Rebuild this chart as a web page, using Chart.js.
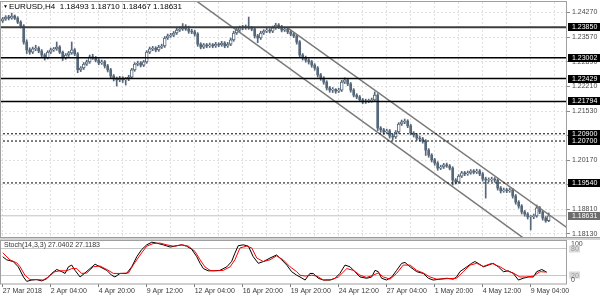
<!DOCTYPE html>
<html><head><meta charset="utf-8">
<script src="https://cdn.jsdelivr.net/npm/chart.js@4.4.0/dist/chart.umd.min.js"></script>
<style>
html,body{margin:0;padding:0;background:#fff;overflow:hidden}
#wrap{position:relative;width:600px;height:300px;background:#fff}
#c1{position:absolute;left:0;top:0}
#c2{position:absolute;left:0;top:240px}
</style></head><body><div id="wrap"><canvas id="c1" width="600" height="240"></canvas><canvas id="c2" width="600" height="60"></canvas></div>
<script>
const symbolTitle = 'EURUSD,H4';
const ohlcTitle = ['1.18493','1.18710','1.18467','1.18631'];
const stochTitle = 'Stoch(14,3,3) 27.0402 27.1183';

const tickIndex = [0,16,32,48,64,80,96,112,128,144,160,176];
const tickLabels = ['27 Mar 2018','2 Apr 04:00','4 Apr 20:00','9 Apr 12:00','12 Apr 04:00','16 Apr 20:00','19 Apr 20:00','24 Apr 12:00','27 Apr 04:00','1 May 20:00','4 May 12:00','9 May 04:00'];
const gridIndex = [0,8,16,24,32,40,48,56,64,72,80,88,96,104,112,120,128,136,144,152,160,168,176,184];
const priceTicks = [1.24270,1.23570,1.22890,1.22210,1.21530,1.20850,1.20170,1.19490,1.18810,1.18130];
const priceRange = [1.18044, 1.24547];
const barRange = [-0.57, 188.1];

const opens = [1.2402,1.2408,1.2413,1.2410,1.2416,1.2410,1.2399,1.2388,1.2344,1.2322,
1.2316,1.2325,1.2327,1.2319,1.2308,1.2300,1.2316,1.2322,1.2325,1.2330,
1.2316,1.2300,1.2308,1.2314,1.2322,1.2311,1.2267,1.2272,1.2283,1.2289,
1.2303,1.2300,1.2294,1.2286,1.2289,1.2278,1.2267,1.2250,1.2242,1.2239,
1.2244,1.2239,1.2242,1.2247,1.2267,1.2283,1.2286,1.2280,1.2289,1.2316,
1.2325,1.2327,1.2322,1.2330,1.2333,1.2355,1.2361,1.2363,1.2369,1.2377,
1.2380,1.2386,1.2380,1.2374,1.2372,1.2366,1.2338,1.2330,1.2336,1.2333,
1.2336,1.2333,1.2338,1.2336,1.2341,1.2333,1.2338,1.2350,1.2369,1.2377,
1.2383,1.2384,1.2386,1.2383,1.2380,1.2361,1.2355,1.2369,1.2374,1.2377,
1.2374,1.2383,1.2391,1.2386,1.2377,1.2380,1.2372,1.2366,1.2361,1.2344,
1.2308,1.2300,1.2294,1.2289,1.2280,1.2272,1.2253,1.2244,1.2233,1.2217,
1.2211,1.2213,1.2208,1.2211,1.2233,1.2239,1.2228,1.2211,1.2197,1.2192,
1.2184,1.2178,1.2181,1.2182,1.2184,1.2197,1.2106,1.2101,1.2095,1.2098,
1.2084,1.2081,1.2095,1.2117,1.2123,1.2125,1.2112,1.2092,1.2087,1.2078,
1.2076,1.2070,1.2045,1.2031,1.2018,1.2009,1.1995,1.1998,1.2004,1.2001,
1.1995,1.1962,1.1957,1.1973,1.1982,1.1979,1.1982,1.1987,1.1984,1.1987,
1.1979,1.1965,1.1962,1.1963,1.1965,1.1962,1.1940,1.1932,1.1935,1.1932,
1.1935,1.1918,1.1901,1.1890,1.1874,1.1868,1.1860,1.1861,1.1863,1.1885,
1.1874,1.1857,1.18493];
const highs = [1.2412,1.2417,1.2418,1.2424,1.2419,1.2414,1.2403,1.2392,1.2350,1.2328,
1.2330,1.2335,1.2331,1.2323,1.2312,1.2320,1.2327,1.2329,1.2344,1.2334,
1.2319,1.2312,1.2318,1.2344,1.2326,1.2315,1.2276,1.2287,1.2294,1.2308,
1.2310,1.2304,1.2298,1.2294,1.2293,1.2282,1.2271,1.2254,1.2247,1.2249,
1.2248,1.2246,1.2252,1.2271,1.2287,1.2291,1.2290,1.2293,1.2320,1.2330,
1.2332,1.2331,1.2335,1.2338,1.2359,1.2366,1.2368,1.2373,1.2382,1.2386,
1.2395,1.2392,1.2388,1.2379,1.2377,1.2370,1.2342,1.2340,1.2340,1.2341,
1.2340,1.2343,1.2342,1.2346,1.2345,1.2343,1.2355,1.2374,1.2382,1.2388,
1.2390,1.2391,1.2413,1.2387,1.2384,1.2365,1.2374,1.2378,1.2382,1.2381,
1.2388,1.2396,1.2395,1.2390,1.2385,1.2384,1.2376,1.2370,1.2365,1.2348,
1.2312,1.2305,1.2298,1.2293,1.2284,1.2276,1.2257,1.2248,1.2237,1.2221,
1.2218,1.2215,1.2216,1.2238,1.2245,1.2243,1.2232,1.2215,1.2201,1.2196,
1.2188,1.2186,1.2186,1.2189,1.2206,1.2201,1.2110,1.2105,1.2103,1.2102,
1.2089,1.2099,1.2121,1.2128,1.2131,1.2129,1.2116,1.2096,1.2091,1.2084,
1.2080,1.2074,1.2049,1.2035,1.2022,1.2013,1.2003,1.2008,1.2009,1.2005,
1.1999,1.1966,1.1977,1.1986,1.1986,1.1987,1.1991,1.1991,1.1992,1.1991,
1.1983,1.1970,1.1968,1.1970,1.1969,1.1966,1.1944,1.1940,1.1939,1.1940,
1.1939,1.1922,1.1905,1.1894,1.1878,1.1872,1.1864,1.1868,1.1893,1.1889,
1.1878,1.1861,1.18710];
const lows = [1.2398,1.2404,1.2405,1.2407,1.2406,1.2395,1.2383,1.2338,1.2312,1.2310,
1.2312,1.2320,1.2314,1.2302,1.2294,1.2297,1.2312,1.2318,1.2321,1.2312,
1.2293,1.2296,1.2304,1.2310,1.2306,1.2259,1.2262,1.2268,1.2279,1.2285,
1.2296,1.2289,1.2281,1.2282,1.2272,1.2261,1.2244,1.2236,1.2222,1.2234,
1.2232,1.2225,1.2237,1.2243,1.2263,1.2278,1.2275,1.2276,1.2285,1.2312,
1.2320,1.2317,1.2318,1.2326,1.2329,1.2351,1.2357,1.2359,1.2365,1.2373,
1.2376,1.2376,1.2368,1.2367,1.2360,1.2332,1.2325,1.2326,1.2328,1.2329,
1.2328,1.2329,1.2331,1.2332,1.2328,1.2329,1.2334,1.2346,1.2365,1.2373,
1.2378,1.2379,1.2379,1.2375,1.2355,1.2342,1.2351,1.2365,1.2370,1.2369,
1.2370,1.2379,1.2381,1.2372,1.2373,1.2367,1.2361,1.2356,1.2338,1.2302,
1.2294,1.2288,1.2283,1.2274,1.2266,1.2247,1.2238,1.2227,1.2211,1.2205,
1.2204,1.2202,1.2204,1.2207,1.2229,1.2223,1.2205,1.2192,1.2187,1.2179,
1.2173,1.2174,1.2176,1.2177,1.2180,1.2099,1.2094,1.2089,1.2091,1.2078,
1.2073,1.2077,1.2091,1.2113,1.2118,1.2107,1.2087,1.2081,1.2072,1.2070,
1.2064,1.2030,1.2025,1.2012,1.2003,1.1989,1.1991,1.1994,1.1997,1.1990,
1.1948,1.1951,1.1953,1.1969,1.1974,1.1975,1.1978,1.1979,1.1980,1.1974,
1.1959,1.1912,1.1957,1.1958,1.1956,1.1934,1.1926,1.1928,1.1927,1.1928,
1.1912,1.1895,1.1884,1.1868,1.1862,1.1854,1.1824,1.1855,1.1859,1.1869,
1.1851,1.1845,1.18467];
const closes = [1.2408,1.2413,1.2410,1.2416,1.2410,1.2399,1.2388,1.2344,1.2322,1.2316,
1.2325,1.2327,1.2319,1.2308,1.2300,1.2316,1.2322,1.2325,1.2330,1.2316,
1.2300,1.2308,1.2314,1.2322,1.2311,1.2267,1.2272,1.2283,1.2289,1.2303,
1.2300,1.2294,1.2286,1.2289,1.2278,1.2267,1.2250,1.2242,1.2239,1.2244,
1.2239,1.2242,1.2247,1.2267,1.2283,1.2286,1.2280,1.2289,1.2316,1.2325,
1.2327,1.2322,1.2330,1.2333,1.2355,1.2361,1.2363,1.2369,1.2377,1.2380,
1.2386,1.2380,1.2374,1.2372,1.2366,1.2338,1.2330,1.2336,1.2333,1.2336,
1.2333,1.2338,1.2336,1.2341,1.2333,1.2338,1.2350,1.2369,1.2377,1.2383,
1.2384,1.2386,1.2383,1.2380,1.2361,1.2355,1.2369,1.2374,1.2377,1.2374,
1.2383,1.2391,1.2386,1.2377,1.2380,1.2372,1.2366,1.2361,1.2344,1.2308,
1.2300,1.2294,1.2289,1.2280,1.2272,1.2253,1.2244,1.2233,1.2217,1.2211,
1.2213,1.2208,1.2211,1.2233,1.2239,1.2228,1.2211,1.2197,1.2192,1.2184,
1.2178,1.2181,1.2182,1.2184,1.2197,1.2106,1.2101,1.2095,1.2098,1.2084,
1.2081,1.2095,1.2117,1.2123,1.2125,1.2112,1.2092,1.2087,1.2078,1.2076,
1.2070,1.2045,1.2031,1.2018,1.2009,1.1995,1.1998,1.2004,1.2001,1.1995,
1.1962,1.1957,1.1973,1.1982,1.1979,1.1982,1.1987,1.1984,1.1987,1.1979,
1.1965,1.1962,1.1963,1.1965,1.1962,1.1940,1.1932,1.1935,1.1932,1.1935,
1.1918,1.1901,1.1890,1.1874,1.1868,1.1860,1.1861,1.1863,1.1885,1.1874,
1.1857,1.1849,1.18631];

const levelsSolid = [1.23850, 1.23002, 1.22429, 1.21794];
const levelsDashed = [1.20900, 1.20700, 1.19540];
const bidPrice = 1.18631;
const channelUpper = [[95.1, 1.23827], [190.0, 1.18190]];
const channelLower = [[63.0, 1.24670], [176.0, 1.17870]];

const stochKIdx = [0,1.3,3.5,5.2,6.9,8.0,9.7,11.3,13.0,14.7,16.3,18.0,19.7,20.8,21.9,23.0,24.1,25.8,27.4,29.1,30.8,32.4,34.7,36.3,37.4,39.1,41.3,43.0,44.7,46.3,48.0,49.7,51.3,53.5,55.8,57.4,59.7,61.3,63.0,64.7,65.8,66.9,68.5,70.2,72.4,74.7,76.3,77.4,78.5,80.2,81.9,83.5,85.2,86.9,89.1,91.3,93.0,94.7,96.3,98.0,99.1,100.8,102.4,103.5,105.2,106.9,109.1,110.8,112.4,114.1,115.8,117.4,119.1,121.3,123.0,124.1,125.2,126.3,128.0,129.7,131.3,133.0,134.1,135.8,138.0,140.2,141.9,143.5,145.8,148.0,150.2,151.3,152.4,154.7,156.3,157.4,158.5,160.2,161.9,163.5,165.2,166.9,168.5,170.2,171.9,173.5,175.2,176.9,178.0,179.7,181.3];
const stochK = [62,55,51,39,16,6,9,10,7,12,24,33,28,24,39,43,31,16,25,35,45,39,31,20,16,24,24,39,62,78,89,95,93,89,84,86,89,86,79,62,47,35,30,30,31,39,51,70,87,89,86,62,47,51,59,66,55,43,28,20,16,9,24,24,13,9,9,13,24,43,39,28,16,13,16,31,28,13,9,16,31,47,49,39,28,24,13,9,11,13,11,16,28,39,47,51,47,39,43,47,39,28,30,24,9,13,16,16,28,33,27.04];
const stochDIdx = [0,2.4,4.7,5.8,7.4,9.1,11.3,13.5,15.2,17.4,19.1,21.3,23.0,24.7,26.3,28.0,30.2,32.4,34.7,36.9,39.1,41.9,43.5,45.8,48.0,50.2,52.4,54.7,56.9,59.7,61.9,64.1,65.8,67.4,69.1,71.3,73.5,75.8,77.4,79.1,81.3,83.0,84.7,86.9,89.1,91.3,93.5,95.8,98.0,99.1,100.8,103.0,104.7,106.9,109.7,111.9,114.7,116.9,119.1,121.3,123.5,125.2,126.9,129.1,131.3,133.5,135.8,138.0,140.2,142.4,144.7,148.0,151.3,153.5,155.8,158.0,160.2,163.0,165.8,168.0,170.2,172.4,174.7,176.9,179.1,181.3];
const stochD = [71,55,48,39,20,10,10,9,16,28,30,30,35,35,24,25,39,41,33,24,24,25,43,66,86,92,93,89,86,89,86,74,55,39,31,30,31,39,55,82,86,82,59,51,55,64,55,39,28,20,18,20,18,9,10,16,35,31,20,15,20,25,16,11,24,43,43,31,25,16,11,12,13,28,43,47,40,47,39,30,25,16,16,18,28,27.12];
const stochLevels = [20, 80];
const stochLabels = [100, 80, 20, 0];

const FONT = "'Liberation Sans','DejaVu Sans',sans-serif";
Chart.defaults.font.family = FONT;
Chart.defaults.font.size = 7;
Chart.defaults.color = '#404040';

const idx = closes.map((_, i) => i);
const wickData = idx.map(i => ({x: i, y: [lows[i], highs[i]]}));
const bullData = idx.filter(i => closes[i] >= opens[i]).map(i => ({x: i, y: [opens[i], closes[i]]}));
const bearData = idx.filter(i => closes[i] < opens[i]).map(i => ({x: i, y: [closes[i], opens[i]]}));
const hLine = v => [{x: barRange[0] - 2, y: v}, {x: barRange[1] + 2, y: v}];
const toPts = arr => arr.map(p => ({x: p[0], y: p[1]}));
const lineDs = (data, color, width, dash, order) => ({type: 'line', data, borderColor: color, borderWidth: width, borderDash: dash, pointRadius: 0, tension: 0, fill: false, clip: 0, order});

const SLATE = '#56677a';
const datasets = [];
levelsSolid.forEach((v, k) => datasets.push(lineDs(hLine(v), k === 0 ? '#3c3c3c' : '#000000', k === 0 ? 2 : 1.5, [], 0)));
levelsDashed.forEach(v => datasets.push(lineDs(hLine(v), '#000000', 1, [2, 2], 0)));
datasets.push(lineDs(hLine(bidPrice), '#c4c4c4', 1, [], 3));
datasets.push(lineDs(toPts(channelUpper), '#7a7a7a', 1.5, [], 0));
datasets.push(lineDs(toPts(channelLower), '#7a7a7a', 1.5, [], 0));
datasets.push({type: 'bar', data: bearData, backgroundColor: SLATE, barThickness: 2, grouped: false, order: 1});
datasets.push({type: 'bar', data: bullData, backgroundColor: '#ffffff', borderColor: SLATE, borderWidth: 1, borderSkipped: false, barThickness: 3, grouped: false, order: 1});
datasets.push({type: 'bar', data: wickData, backgroundColor: SLATE, barThickness: 1, grouped: false, order: 2});

const mainDecor = {
  id: 'mainDecor',
  beforeDraw(chart) {
    const c = chart.ctx; c.save(); c.fillStyle = '#ffffff'; c.fillRect(0, 0, chart.width, chart.height); c.restore();
  },
  afterDraw(chart) {
    const c = chart.ctx, a = chart.chartArea, y = chart.scales.y;
    c.save();
    c.strokeStyle = '#a0a0a0'; c.lineWidth = 1;
    c.strokeRect(a.left - 0.5, a.top - 0.5, a.right - a.left, a.bottom - a.top + 1);
    c.fillStyle = '#9a9a9a'; c.fillRect(0, a.bottom, chart.width, 1);
    c.fillStyle = '#d2d2d2'; c.fillRect(0, a.bottom + 1, chart.width, chart.height - a.bottom - 1);
    c.font = '7px ' + FONT; c.textBaseline = 'middle'; c.textAlign = 'left';
    const tags = levelsSolid.concat(levelsDashed).map(v => [v, '#000000']).concat([[bidPrice, '#6c6c6c']]);
    tags.forEach(([v, col]) => {
      const py = Math.round(y.getPixelForValue(v));
      c.fillStyle = col; c.fillRect(a.right + 1, py - 4, chart.width - a.right - 1, 8);
      c.fillStyle = '#ffffff'; c.fillText(v.toFixed(5), a.right + 5, py + 0.5);
    });
    c.fillStyle = '#000000';
    c.font = '5px ' + FONT; c.fillText('▼', a.left + 2, a.top + 5);
    c.font = '8px ' + FONT; c.fillText(symbolTitle + '  ' + ohlcTitle.join(' '), a.left + 8, a.top + 5);
    c.restore();
  }
};

new Chart(document.getElementById('c1'), {
  type: 'bar',
  data: {datasets},
  options: {
    responsive: false, animation: false, devicePixelRatio: 1, events: [],
    layout: {padding: {left: 1, top: 2, right: 0, bottom: 3}},
    plugins: {legend: {display: false}, tooltip: {enabled: false}},
    scales: {
      x: {type: 'linear', min: barRange[0], max: barRange[1], offset: false,
        grid: {color: '#e0e0e0', lineWidth: 1, drawTicks: false, offset: false},
        border: {display: false, dash: [2, 2]},
        ticks: {display: false},
        afterBuildTicks: s => { s.ticks = gridIndex.map(v => ({value: v})); },
        afterFit: s => { s.height = 0; s.paddingLeft = 0; s.paddingRight = 0; }
      },
      y: {type: 'linear', position: 'right', min: priceRange[0], max: priceRange[1], beginAtZero: false,
        grid: {color: '#e0e0e0', drawTicks: true, tickLength: 3, tickColor: '#8a8a8a', tickBorderDash: []},
        border: {display: false, dash: [2, 2]},
        ticks: {padding: 2, color: '#4a4a4a', font: {size: 7}, callback: v => Number(v).toFixed(5)},
        afterBuildTicks: s => { s.ticks = priceTicks.map(v => ({value: v})); },
        afterFit: s => { s.width = 33; s.paddingTop = 0; s.paddingBottom = 0; }
      }
    }
  },
  plugins: [mainDecor]
});

const stochDecor = {
  id: 'stochDecor',
  beforeDraw(chart) {
    const c = chart.ctx; c.save(); c.fillStyle = '#ffffff'; c.fillRect(0, 0, chart.width, chart.height); c.restore();
  },
  afterDraw(chart) {
    const c = chart.ctx, a = chart.chartArea, y = chart.scales.y;
    c.save();
    c.strokeStyle = '#a0a0a0'; c.lineWidth = 1;
    c.strokeRect(a.left - 0.5, a.top + 0.5, a.right - a.left, a.bottom - a.top - 0.5);
    c.font = '7px ' + FONT; c.textBaseline = 'middle'; c.textAlign = 'left';
    stochLabels.forEach(v => {
      let py = y.getPixelForValue(v);
      py = Math.min(Math.max(py, a.top + 4), a.bottom - 4);
      if (stochLevels.includes(v)) {
        c.fillStyle = '#dadada'; c.fillRect(a.right + 2, Math.round(py) - 3.5, 11, 7);
        c.fillStyle = '#9a9a9a';
      } else {
        c.fillStyle = '#4a4a4a';
      }
      c.fillText(String(v), a.right + 4, py + 0.5);
    });
    c.fillStyle = '#333333';
    c.fillText(stochTitle, a.left + 3, a.top + 5.5);
    c.restore();
  }
};

new Chart(document.getElementById('c2'), {
  type: 'line',
  data: {datasets: [
    {data: stochDIdx.map((x, i) => ({x, y: stochD[i]})), borderColor: '#ff0000', borderWidth: 1, pointRadius: 0, tension: 0, fill: false, order: 0},
    {data: stochKIdx.map((x, i) => ({x, y: stochK[i]})), borderColor: '#000000', borderWidth: 1, pointRadius: 0, tension: 0, fill: false, order: 1}
  ]},
  options: {
    responsive: false, animation: false, devicePixelRatio: 1, events: [],
    layout: {padding: {left: 1, top: 0, right: 0, bottom: 0}},
    plugins: {legend: {display: false}, tooltip: {enabled: false}},
    scales: {
      x: {type: 'linear', min: barRange[0], max: barRange[1], offset: false,
        grid: {drawOnChartArea: false, drawTicks: true, tickLength: 3, tickColor: '#7a7a7a'},
        border: {display: false},
        ticks: {align: 'start', padding: 0, autoSkip: false, maxRotation: 0, color: '#3a3a3a', font: {size: 7},
          callback: (v, i) => tickLabels[i]},
        afterBuildTicks: s => { s.ticks = tickIndex.map(v => ({value: v})); },
        afterFit: s => { s.height = 16; s.paddingLeft = 0; s.paddingRight = 0; }
      },
      y: {type: 'linear', position: 'right', min: 0, max: 100,
        grid: {color: c => stochLevels.includes(c.tick && c.tick.value) ? '#c6c6c6' : 'rgba(0,0,0,0)', drawTicks: false},
        border: {display: false},
        ticks: {display: false},
        afterBuildTicks: s => { s.ticks = stochLabels.map(v => ({value: v})); },
        afterFit: s => { s.width = 33; s.paddingTop = 0; s.paddingBottom = 0; }
      }
    }
  },
  plugins: [stochDecor]
});
</script></body></html>
